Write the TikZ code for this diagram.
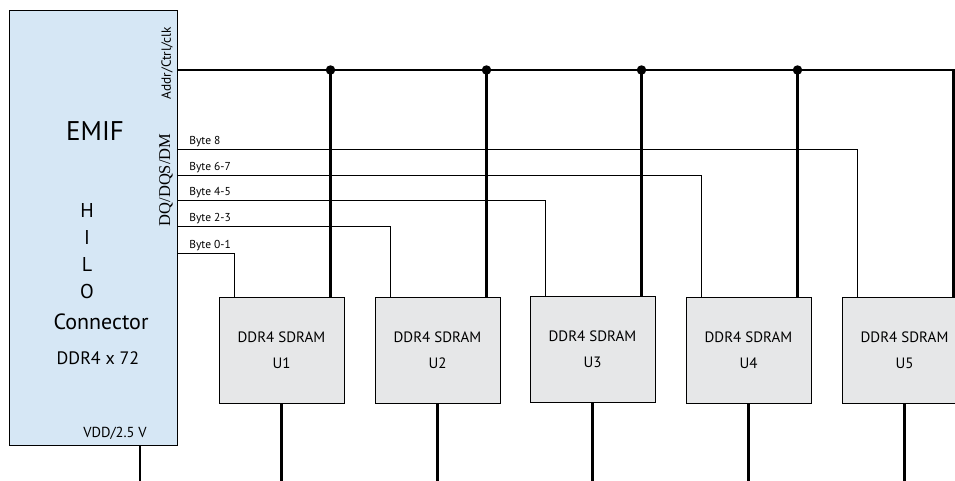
\documentclass[tikz,border=0pt]{standalone}
\usepackage{fontspec}
\setsansfont{PT Sans}
\newfontfamily\dqfont{Liberation Serif}
\usetikzlibrary{calc}
\definecolor{emifblue}{RGB}{214,231,245}
\definecolor{chipgray}{RGB}{230,231,232}

\begin{document}
\begin{tikzpicture}[x=1pt, y=-1pt, font=\sffamily,
  connector/.style={draw, line width=1pt, fill=emifblue, minimum width=168pt, minimum height=435pt, inner sep=0pt},
  chip/.style={draw, line width=1pt, fill=chipgray, minimum width=125pt, minimum height=106pt, align=center, font=\sffamily\fontsize{15}{26}\selectfont},
  emiftext/.style={inner sep=0pt, font=\sffamily\fontsize{#1}{#1}\selectfont},
  sidetext/.style={rotate=90, inner sep=0pt},
  bus/.style={line width=2.2pt},
  byteline/.style={line width=0.8pt},
  bytelabel/.style={anchor=south west, inner sep=1.5pt, xshift=10pt, font=\sffamily\fontsize{11.5}{12}\selectfont},
  junction/.style={circle, fill, inner sep=0pt, minimum size=9.5pt},
]
\useasboundingbox (0,0) rectangle (955,480);

\node[connector] (emif) at (93,227.5) {};
\node[emiftext=27] (emifname) at (95,131) {EMIF};
\node[emiftext=20] (h) at (87,210) {H};
\node[emiftext=20] (i) at (87,237) {I};
\node[emiftext=20] (l) at (87,264) {L};
\node[emiftext=20] (o) at (87,291) {O};
\node[emiftext=22] (conn) at (101,322) {Connector};
\node[emiftext=18] (width) at (98,358) {DDR4 x 72};
\node[emiftext=14.5] (vdd) at (115,433) {VDD/2.5 V};
\node[sidetext, font=\sffamily\fontsize{13.3}{13.3}\selectfont] (addrtext) at (167,63) {Addr/Ctrl/clk};
\node[sidetext, font=\dqfont\fontsize{16.5}{16.5}\selectfont] (dqtext) at (166,180) {DQ/DQS/DM};

\node[chip] (u1) at (281.5,350) {DDR4 SDRAM\\U1};
\node[chip] (u2) at (437.5,350) {DDR4 SDRAM\\U2};
\node[chip] (u3) at (592.5,349.5) {DDR4 SDRAM\\U3};
\node[chip] (u4) at (748.5,350) {DDR4 SDRAM\\U4};
\node[chip] (u5) at (904.5,350) {DDR4 SDRAM\\U5};

% address / control bus
\coordinate (addr) at (emif.east |- 0,70);
\foreach \u in {u1,u2,u3,u4,u5}
  \coordinate (\u top) at ($(\u.north east)+(-14,0)$);
\draw[bus] (addr) -| (u5top);
\foreach \u in {u1,u2,u3,u4}
  \draw[bus] (\u top) -- (\u top |- addr) node[junction] {};

% data byte lanes
\draw[byteline] (emif.east |- 0,253) node[bytelabel] {Byte 0-1} -| ($(u1.north west)+(16,0)$);
\draw[byteline] (emif.east |- 0,226) node[bytelabel] {Byte 2-3} -| ($(u2.north west)+(16,0)$);
\draw[byteline] (emif.east |- 0,200) node[bytelabel] {Byte 4-5} -| ($(u3.north west)+(16,0)$);
\draw[byteline] (emif.east |- 0,175) node[bytelabel] {Byte 6-7} -| ($(u4.north west)+(16,0)$);
\draw[byteline] (emif.east |- 0,149) node[bytelabel] {Byte 8} -| ($(u5.north west)+(16,0)$);

% supply
\draw[bus] (emif.south -| 140,0) -- (140,482);
\foreach \u in {u1,u2,u3,u4,u5}
  \draw[bus] (\u.south) -- (\u.south |- 0,482);
\end{tikzpicture}
\end{document}
